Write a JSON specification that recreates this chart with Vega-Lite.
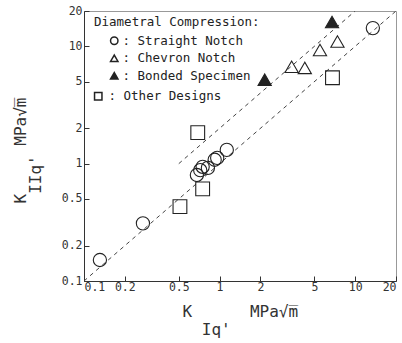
{
  "$schema": "https://vega.github.io/schema/vega-lite/v6.json",
  "autosize": {"type": "none"},
  "padding": {"left": 84, "top": 11, "right": 6, "bottom": 62},
  "width": 312,
  "height": 270,
  "background": "white",
  "config": {
    "view": {"stroke": "#999"},
    "font": "DejaVu Sans Mono",
    "axis": {
      "grid": false,
      "domainColor": "#333",
      "tickColor": "#333",
      "tickSize": -5,
      "labelFont": "DejaVu Sans Mono",
      "labelFontSize": 11.5,
      "labelColor": "#333",
      "titleFont": "DejaVu Sans Mono",
      "titleFontSize": 16,
      "titleFontWeight": "normal",
      "titleColor": "#333",
      "titleLineHeight": 17
    },
    "legend": {
      "titleFont": "DejaVu Sans Mono",
      "labelFont": "DejaVu Sans Mono",
      "titleFontSize": 12.5,
      "labelFontSize": 12.5,
      "titleFontWeight": "normal",
      "titleColor": "#222",
      "labelColor": "#222"
    }
  },
  "datasets": {
    "pts": [
      {"kind": "Straight Notch", "x": 0.131, "y": 0.151},
      {"kind": "Straight Notch", "x": 0.272, "y": 0.31},
      {"kind": "Straight Notch", "x": 0.68, "y": 0.8},
      {"kind": "Straight Notch", "x": 0.72, "y": 0.88},
      {"kind": "Straight Notch", "x": 0.75, "y": 0.94},
      {"kind": "Straight Notch", "x": 0.82, "y": 0.92},
      {"kind": "Straight Notch", "x": 0.92, "y": 1.08},
      {"kind": "Straight Notch", "x": 0.96, "y": 1.12},
      {"kind": "Straight Notch", "x": 1.13, "y": 1.31},
      {"kind": "Straight Notch", "x": 13.5, "y": 14.3},
      {"kind": "Chevron Notch", "x": 3.4, "y": 6.7},
      {"kind": "Chevron Notch", "x": 4.25, "y": 6.55},
      {"kind": "Chevron Notch", "x": 5.5, "y": 9.3},
      {"kind": "Chevron Notch", "x": 7.4, "y": 11.0},
      {"kind": "Bonded Specimen", "x": 2.15, "y": 5.2},
      {"kind": "Bonded Specimen", "x": 6.75, "y": 16.1},
      {"kind": "Other Designs", "x": 6.8, "y": 5.4},
      {"kind": "Other Designs", "x": 0.69, "y": 1.84},
      {"kind": "Other Designs", "x": 0.75, "y": 0.61},
      {"kind": "Other Designs", "x": 0.51, "y": 0.43}
    ],
    "lines": [
      {"line": "y = x", "x": 0.1, "y": 0.1},
      {"line": "y = x", "x": 20, "y": 20},
      {"line": "y = 2x", "x": 0.5, "y": 1.0},
      {"line": "y = 2x", "x": 10, "y": 20}
    ]
  },
  "layer": [
    {
      "data": {"name": "lines"},
      "mark": {"type": "line", "strokeDash": [4, 4], "strokeWidth": 1, "color": "#444", "clip": true},
      "encoding": {
        "x": {"field": "x", "type": "quantitative"},
        "y": {"field": "y", "type": "quantitative"},
        "detail": {"field": "line"}
      }
    },
    {
      "data": {"name": "pts"},
      "transform": [{"filter": "datum.kind !== 'Other Designs'"}],
      "mark": {"type": "point", "size": 175, "strokeWidth": 1.1, "stroke": "#222", "opacity": 1},
      "encoding": {
        "x": {
          "field": "x", "type": "quantitative",
          "scale": {"type": "log", "domain": [0.1, 20], "nice": false},
          "axis": {
            "values": [0.1, 0.2, 0.5, 1, 2, 5, 10, 20],
            "format": "~g",
            "labelPadding": 5,
            "title": ["K\u00a0\u00a0\u00a0\u00a0\u00a0\u00a0MPa\u221am\u0305", "\u200b\u00a0\u00a0Iq'"],
            "titleAlign": "left",
            "titleX": 98,
            "titleY": 22,
            "titleBaseline": "top",
            "titleLineHeight": 18
          }
        },
        "y": {
          "field": "y", "type": "quantitative",
          "scale": {"type": "log", "domain": [0.1, 20], "nice": false},
          "axis": {
            "values": [0.1, 0.2, 0.5, 1, 2, 5, 10, 20],
            "format": "~g",
            "labelPadding": 7,
            "title": ["K\u00a0\u00a0\u00a0\u00a0\u00a0MPa\u221am\u0305", "\u200b\u00a0IIq'"],
            "titleAlign": "left",
            "titleX": -72,
            "titleY": 192,
            "titleAngle": 270,
            "titleBaseline": "top",
            "titleLineHeight": 15
          }
        },
        "shape": {
          "field": "kind", "type": "nominal",
          "scale": {"domain": ["Straight Notch", "Chevron Notch", "Bonded Specimen"], "range": ["circle", "triangle-up", "triangle-up"]},
          "legend": {
            "title": "Diametral Compression:",
            "orient": "none", "legendX": 10, "legendY": 5,
            "symbolSize": 55, "symbolOffset": 14,
            "labelExpr": "': ' + datum.label",
            "labelOffset": 2,
            "rowPadding": 4.5,
            "titlePadding": 6,
            "encode": {"symbols": {"update": {"stroke": {"value": "#222"}, "strokeWidth": {"value": 1}}}}
          }
        },
        "fill": {
          "field": "kind", "type": "nominal",
          "scale": {"domain": ["Straight Notch", "Chevron Notch", "Bonded Specimen"], "range": ["transparent", "transparent", "#222"]},
          "legend": {
            "title": "Diametral Compression:",
            "orient": "none", "legendX": 10, "legendY": 5,
            "symbolSize": 55, "symbolOffset": 14,
            "labelExpr": "': ' + datum.label",
            "labelOffset": 2,
            "rowPadding": 4.5,
            "titlePadding": 6,
            "encode": {"symbols": {"update": {"stroke": {"value": "#222"}, "strokeWidth": {"value": 1}}}}
          }
        }
      }
    },
    {
      "data": {"name": "pts"},
      "transform": [{"filter": "datum.kind === 'Other Designs'"}],
      "mark": {"type": "point", "size": 190, "strokeWidth": 1.1, "stroke": "#222", "filled": false, "opacity": 1},
      "encoding": {
        "x": {"field": "x", "type": "quantitative"},
        "y": {"field": "y", "type": "quantitative"},
        "shape": {
          "field": "kind", "type": "nominal",
          "scale": {"domain": ["Other Designs"], "range": ["square"]},
          "legend": {
            "title": null,
            "orient": "none", "legendX": 8, "legendY": 79,
            "symbolSize": 55,
            "labelExpr": "': ' + datum.label",
            "labelOffset": 4,
            "encode": {"symbols": {"update": {"stroke": {"value": "#222"}, "strokeWidth": {"value": 1}}}}
          }
        }
      }
    }
  ],
  "resolve": {"scale": {"shape": "independent", "fill": "independent"}, "legend": {"shape": "independent", "fill": "independent"}}
}
